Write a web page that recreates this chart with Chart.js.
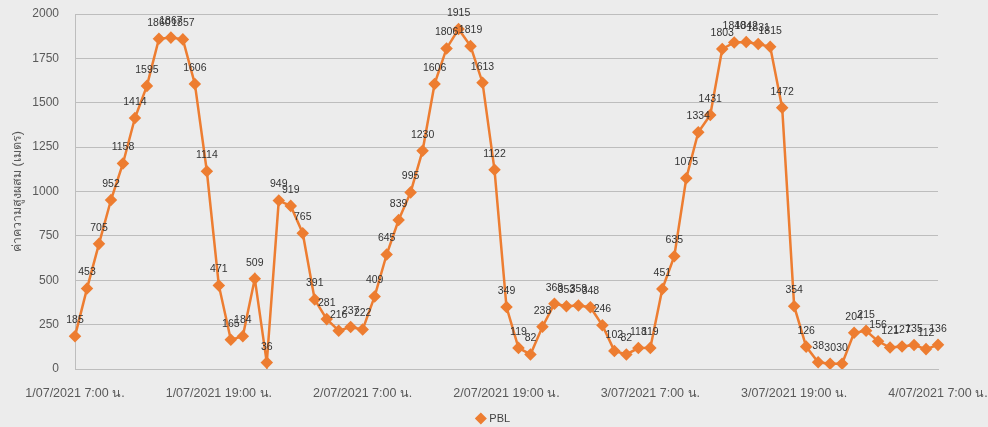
<!DOCTYPE html>
<html><head><meta charset="utf-8">
<script src="https://cdn.jsdelivr.net/npm/chart.js@4.4.0/dist/chart.umd.min.js"></script>
<style>html,body{margin:0;padding:0;background:#ececec;}</style>
</head><body>
<canvas id="c" width="988" height="427"></canvas>
<script>
const seriesName = "PBL";
const pblValues = [185,453,705,952,1158,1414,1595,1860,1867,1857,1606,1114,
  471,165,184,509,36,949,919,765,391,281,216,237,
  222,409,645,839,995,1230,1606,1806,1915,1819,1613,1122,
  349,119,82,238,368,353,358,348,246,102,82,118,
  119,451,635,1075,1334,1431,1803,1840,1842,1831,1815,1472,
  354,126,38,30,30,204,215,156,121,127,135,112,136];
const tickLabels = ["1/07/2021 7:00 น.","1/07/2021 19:00 น.","2/07/2021 7:00 น.","2/07/2021 19:00 น.","3/07/2021 7:00 น.","3/07/2021 19:00 น.","4/07/2021 7:00 น."];
const yTitle = "ค่าความสูงผสม (เมตร)";
const yTicks = [0,250,500,750,1000,1250,1500,1750,2000];
const startDay = 1, startHour = 7;

const categories = [];
for (let i = 0; i < pblValues.length; i++) {
  const t = startHour + i;
  categories.push((startDay + Math.floor(t / 24)) + "/07/2021 " + (t % 24) + ":00 น.");
}

const FONT = "Tahoma, 'Liberation Sans', 'Noto Sans', sans-serif";
const ORANGE = '#ED7D31';
const GRID = '#bdbdbd';
const TXT = '#595959';

const pointLabels = {
  id: 'pointLabels',
  afterDatasetsDraw(chart) {
    const ctx = chart.ctx, meta = chart.getDatasetMeta(0), data = chart.data.datasets[0].data;
    ctx.save();
    ctx.font = "10.5px " + FONT;
    ctx.fillStyle = '#333333';
    ctx.textAlign = 'center';
    ctx.textBaseline = 'middle';
    meta.data.forEach((pt, i) => ctx.fillText(String(data[i]), pt.x, pt.y - 16));
    ctx.restore();
  }
};

new Chart(document.getElementById('c'), {
  type: 'line',
  data: {
    labels: categories,
    datasets: [{
      label: seriesName,
      data: pblValues,
      borderColor: ORANGE,
      backgroundColor: ORANGE,
      borderWidth: 2.5,
      pointStyle: 'rectRot',
      pointRadius: 4.5,
      pointBackgroundColor: ORANGE,
      pointBorderColor: ORANGE,
      tension: 0,
      fill: false
    }]
  },
  options: {
    responsive: false,
    animation: false,
    layout: { padding: { left: 0, right: 0, top: 14, bottom: -7 } },
    plugins: {
      tooltip: { enabled: false },
      legend: {
        position: 'bottom',
        labels: {
          usePointStyle: true, pointStyle: 'rectRot', boxWidth: 6, boxHeight: 6,
          color: '#404040', font: { size: 11, family: FONT }, padding: 2
        }
      }
    },
    scales: {
      x: {
        grid: { display: false, drawTicks: false },
        border: { display: true, color: GRID },
        ticks: {
          autoSkip: false, maxRotation: 0, minRotation: 0, padding: 17,
          color: TXT, font: { size: 12.5, family: FONT },
          callback: (v, i) => tickLabels.includes(categories[i]) ? categories[i] : ''
        },
        afterFit(s) { s.height = 42; s.paddingRight = 50; s.paddingLeft = 0; }
      },
      y: {
        min: 0, max: 2000,
        afterBuildTicks(s) { s.ticks = yTicks.map(v => ({ value: v })); },
        grid: { color: GRID, drawTicks: false },
        border: { display: true, color: GRID },
        ticks: { padding: 16, color: TXT, font: { size: 12, family: FONT }, callback: v => String(v) },
        title: { display: true, text: yTitle, color: TXT, font: { size: 12.5, family: FONT }, padding: { top: 10, bottom: 0 } },
        afterFit(s) { s.width = 75; s.paddingTop = 0; s.paddingBottom = 0; }
      }
    }
  },
  plugins: [pointLabels]
});
</script>
</body></html>
